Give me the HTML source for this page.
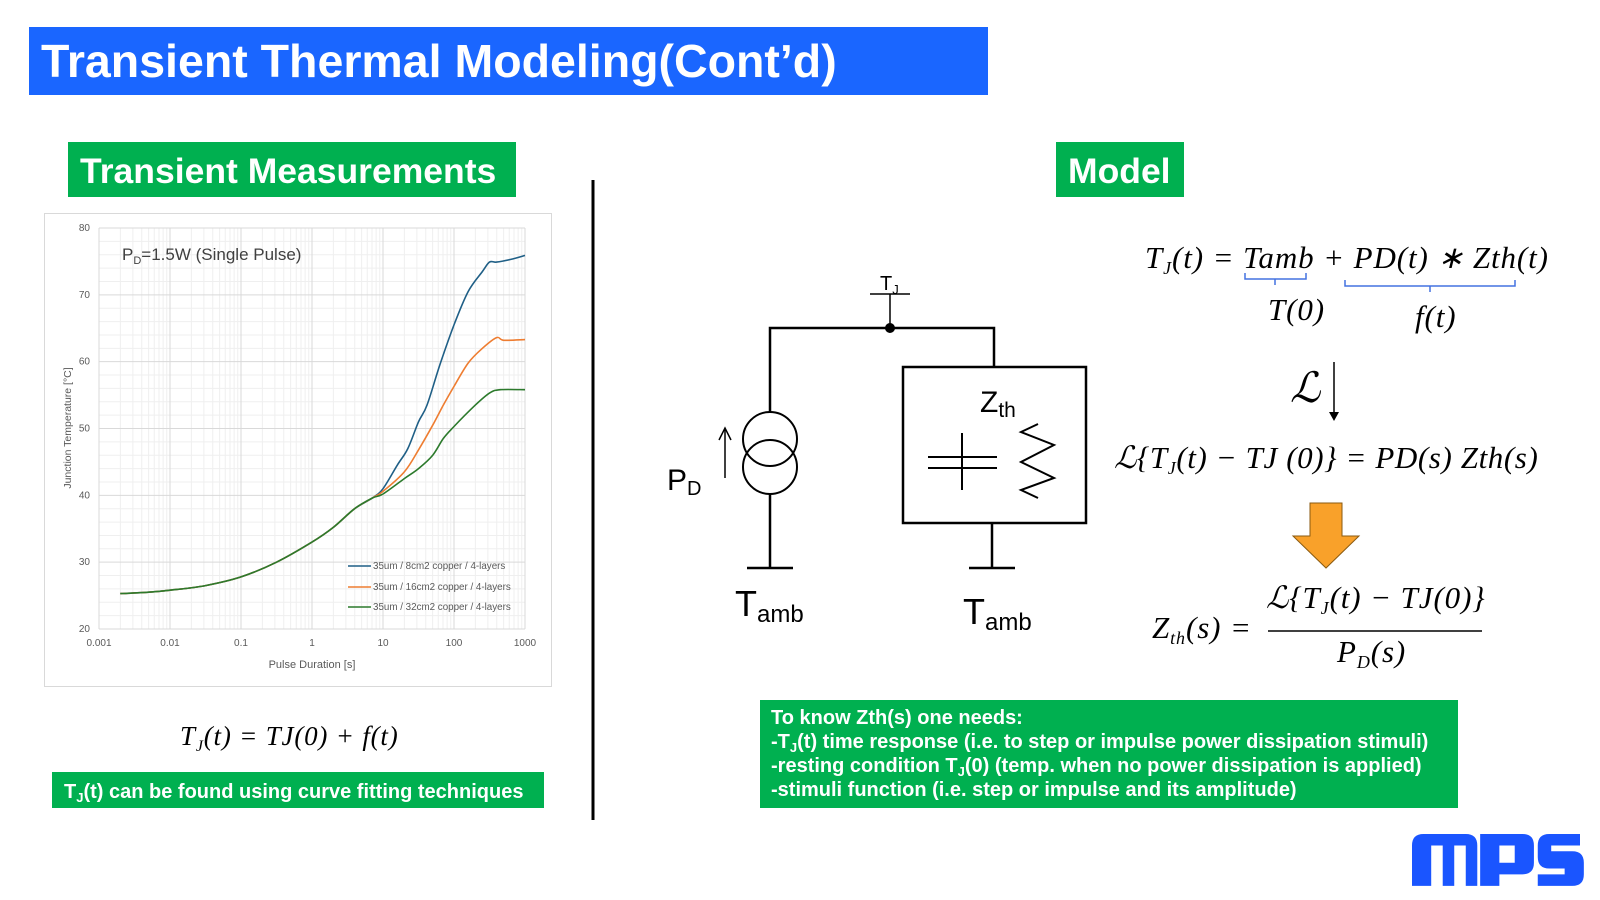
<!DOCTYPE html>
<html><head><meta charset="utf-8"><style>
html,body{margin:0;padding:0;background:#fff;}
svg{display:block;}
.m{font-family:"Liberation Serif",serif;font-style:italic;}
.a{font-family:"Liberation Sans",sans-serif;}
</style></head><body>
<svg id="s" width="1600" height="900" viewBox="0 0 1600 900" xmlns="http://www.w3.org/2000/svg">
<rect x="0" y="0" width="1600" height="900" fill="#fff"/>
<rect x="29" y="27" width="959" height="68" fill="#1a66ff"/>
<text x="41" y="77" class="a" font-size="46.5" font-weight="bold" fill="#fff">Transient Thermal Modeling(Cont’d)</text>
<rect x="68" y="142" width="448" height="55" fill="#00b050"/>
<text x="80" y="183" class="a" font-size="35.5" font-weight="bold" fill="#fff">Transient Measurements</text>
<rect x="1056" y="142" width="128" height="55" fill="#00b050"/>
<text x="1068" y="183" class="a" font-size="35.5" font-weight="bold" fill="#fff">Model</text>
<line x1="593" y1="180" x2="593" y2="820" stroke="#000" stroke-width="3"/>

<rect x="44.5" y="213.5" width="507" height="473" fill="#fff" stroke="#d9d9d9"/>
<g id="grid"></g>
<g id="curves" fill="none" stroke-width="1.6"></g>
<g class="a" font-size="10" fill="#595959" id="ticks"></g>
<text x="122" y="260" class="a" font-size="17" fill="#404040">P<tspan font-size="11" dy="4">D</tspan><tspan dy="-4">=1.5W (Single Pulse)</tspan></text>
<text transform="translate(71,428) rotate(-90)" text-anchor="middle" class="a" font-size="10.5" fill="#595959">Junction Temperature [°C]</text>
<text x="312" y="668" text-anchor="middle" class="a" font-size="11" fill="#595959">Pulse Duration [s]</text>
<g class="a" font-size="9.8" fill="#595959">
<line x1="348" y1="566" x2="371" y2="566" stroke="#1f5f86" stroke-width="1.6"/><text x="373" y="569">35um / 8cm2 copper / 4-layers</text>
<line x1="348" y1="587" x2="371" y2="587" stroke="#ee7d31" stroke-width="1.6"/><text x="373" y="590">35um / 16cm2 copper / 4-layers</text>
<line x1="348" y1="607" x2="371" y2="607" stroke="#2c7a2c" stroke-width="1.6"/><text x="373" y="610">35um / 32cm2 copper / 4-layers</text>
</g>

<text x="180" y="745" class="m" font-size="27" letter-spacing="0.8" fill="#000">T<tspan font-size="16" dy="6">J</tspan><tspan dy="-6">(t) = TJ(0) + f(t)</tspan></text>
<rect x="52" y="772" width="492" height="36" fill="#00b050"/>
<text x="64" y="798" class="a" font-size="20" font-weight="bold" fill="#fff">T<tspan font-size="13" dy="4">J</tspan><tspan dy="-4">(t) can be found using curve fitting techniques</tspan></text>

<g stroke="#000" stroke-width="2.5" fill="none">
<line x1="870" y1="294" x2="910" y2="294" stroke-width="1.5"/>
<line x1="890" y1="294" x2="890" y2="328" stroke-width="1.5"/>
<polyline points="770,412 770,328 994,328 994,367"/>
<circle cx="770" cy="439" r="27" stroke-width="2"/>
<circle cx="770" cy="467" r="27" stroke-width="2"/>
<line x1="770" y1="494" x2="770" y2="568"/>
<line x1="747" y1="568" x2="793" y2="568"/>
<rect x="903" y="367" width="183" height="156"/>
<line x1="992" y1="523" x2="992" y2="568"/>
<line x1="969" y1="568" x2="1015" y2="568"/>
<line x1="962" y1="433" x2="962" y2="490" stroke-width="2"/>
<line x1="928" y1="457" x2="997" y2="457" stroke-width="2"/>
<line x1="928" y1="468" x2="997" y2="468" stroke-width="2"/>
<polyline points="1038,424 1021,432 1054,445 1021,462 1054,478 1021,490 1038,498" stroke-width="2"/>
<line x1="725" y1="478" x2="725" y2="430" stroke-width="1.5"/>
<polyline points="719,440 725,428 731,440" stroke-width="1.5"/>
</g>
<circle cx="890" cy="328" r="5" fill="#000"/>
<text x="880" y="290" class="a" font-size="20">T<tspan font-size="13" dy="4">J</tspan></text>
<text x="980" y="412" class="a" font-size="30">Z<tspan font-size="21" dy="5">th</tspan></text>
<text x="667" y="490" class="a" font-size="30">P<tspan font-size="20" dy="5">D</tspan></text>
<text x="735" y="616" class="a" font-size="36">T<tspan font-size="24" dy="6">amb</tspan></text>
<text x="963" y="624" class="a" font-size="36">T<tspan font-size="24" dy="6">amb</tspan></text>

<g class="m" letter-spacing="0.9">
<text x="1145" y="268" font-size="31">T<tspan font-size="18" dy="6">J</tspan><tspan dy="-6">(t) = Tamb + PD(t) ∗ Zth(t)</tspan></text>
<text x="1268" y="320" font-size="31">T(0)</text>
<text x="1415" y="327" font-size="31">f(t)</text>
<text x="1114" y="468" font-size="31" letter-spacing="0.6">ℒ{T<tspan font-size="18" dy="6">J</tspan><tspan dy="-6">(t) − TJ (0)} = PD(s) Zth(s)</tspan></text>
<text x="1152" y="638" font-size="31">Z<tspan font-size="18" dy="6">th</tspan><tspan dy="-6">(s) =</tspan></text>
<text x="1266" y="608" font-size="31">ℒ{T<tspan font-size="18" dy="6">J</tspan><tspan dy="-6">(t) − TJ(0)}</tspan></text>
<text x="1337" y="662" font-size="31">P<tspan font-size="18" dy="6">D</tspan><tspan dy="-6">(s)</tspan></text>
</g>
<g stroke="#4472e0" stroke-width="1.5" fill="none">
<path d="M1245,273 v6 h61 v-6 M1275,279 v6"/>
<path d="M1345,280 v6 h170 v-6 M1430,286 v6"/>
</g>
<text x="1290" y="402" class="m" font-size="42">ℒ</text>
<line x1="1334" y1="362" x2="1334" y2="414" stroke="#000" stroke-width="1.5"/>
<polygon points="1329,412 1339,412 1334,421" fill="#000"/>
<polygon points="1310,503 1342,503 1342,536 1359,536 1326,568 1293,536 1310,536" fill="#f9a12a" stroke="#8a5a10" stroke-width="1"/>
<line x1="1268" y1="631" x2="1482" y2="631" stroke="#000" stroke-width="1.5"/>

<rect x="760" y="700" width="698" height="108" fill="#00b050"/>
<g class="a" font-size="20" font-weight="bold" fill="#fff">
<text x="771" y="724">To know Zth(s) one needs:</text>
<text x="771" y="748">-T<tspan font-size="13" dy="4">J</tspan><tspan dy="-4">(t) time response (i.e. to step or impulse power dissipation stimuli)</tspan></text>
<text x="771" y="772">-resting condition T<tspan font-size="13" dy="4">J</tspan><tspan dy="-4">(0) (temp. when no power dissipation is applied)</tspan></text>
<text x="771" y="796">-stimuli function (i.e. step or impulse and its amplitude)</text>
</g>

<g fill="#1a55ff" transform="translate(1412,834) scale(0.96) translate(-1407,-828)">
<path d="M1407,840 q0,-12 12,-12 h44 q12,0 12,12 v42 h-12 v-42 h-12 v42 h-12 v-42 h-12 v42 h-20 z"/>
<path d="M1478,828 h44 q12,0 12,12 v18 q0,12 -12,12 h-24 v12 h-20 z M1498,840 v18 h16 v-18 z" fill-rule="evenodd"/>
<path d="M1538,840 q0,-12 12,-12 h32 v12 h-30 v6 h22 q12,0 12,12 v12 q0,12 -12,12 h-36 v-12 h28 v-6 h-16 q-12,0 -12,-12 z"/>
</g>
</svg>
<script>
(function(){
function X(L){return 99+(L+3)*71;}
function Y(T){return 629-(T-20)*6.683;}
var g=document.getElementById('grid'),h='';
for(var d=-3;d<3;d++){for(var k=2;k<10;k++){var x=X(d+Math.log10(k));h+='<line x1="'+x+'" y1="228" x2="'+x+'" y2="629" stroke="#efefef" stroke-width="1"/>';}}
for(var t=22;t<80;t+=2){if(t%10)h+='<line x1="99" y1="'+Y(t)+'" x2="525" y2="'+Y(t)+'" stroke="#efefef"/>';}
for(var d=-3;d<=3;d++){h+='<line x1="'+X(d)+'" y1="228" x2="'+X(d)+'" y2="629" stroke="#d9d9d9"/>';}
for(var t=20;t<=80;t+=10){h+='<line x1="99" y1="'+Y(t)+'" x2="525" y2="'+Y(t)+'" stroke="#d9d9d9"/>';}
g.innerHTML=h;
var tk='',labs=['0.001','0.01','0.1','1','10','100','1000'];
for(var i=0;i<7;i++)tk+='<text x="'+X(i-3)+'" y="646" text-anchor="middle">'+labs[i]+'</text>';
for(var t=20;t<=80;t+=10)tk+='<text x="90" y="'+(Y(t)+3)+'" text-anchor="end">'+t+'</text>';
document.getElementById('ticks').innerHTML=tk;
var base=[[-2.7,25.3],[-2.3,25.5],[-2,25.8],[-1.5,26.5],[-1,27.8],[-0.5,30],[0,33],[0.3,35.2],[0.6,38],[0.85,39.6]];
var green=base.concat([[1,40.2],[1.3,42.5],[1.5,44],[1.7,46],[1.85,48.5],[2,50.3],[2.3,53.5],[2.5,55.3],[2.65,55.8],[3,55.8]]);
var orange=base.concat([[1,40.6],[1.3,43.5],[1.5,46.8],[1.7,50.5],[1.85,53.5],[2,56.3],[2.2,59.8],[2.4,62],[2.6,63.6],[2.7,63.2],[3,63.3]]);
var blue=base.concat([[1,41],[1.2,44.5],[1.35,47],[1.5,51],[1.62,53.5],[1.8,59.5],[2,65.5],[2.2,70.5],[2.4,73.5],[2.5,74.9],[2.6,74.9],[2.8,75.3],[3,75.9]]);
function p(a){
 var P=a.map(function(q){return [X(q[0]),Y(q[1])];});
 var s='M'+P[0][0].toFixed(1)+','+P[0][1].toFixed(1);
 for(var i=0;i<P.length-1;i++){
  var p0=P[i-1]||P[i],p1=P[i],p2=P[i+1],p3=P[i+2]||P[i+1];
  var c1x=p1[0]+(p2[0]-p0[0])/6,c1y=p1[1]+(p2[1]-p0[1])/6;
  var c2x=p2[0]-(p3[0]-p1[0])/6,c2y=p2[1]-(p3[1]-p1[1])/6;
  s+=' C'+c1x.toFixed(1)+','+c1y.toFixed(1)+' '+c2x.toFixed(1)+','+c2y.toFixed(1)+' '+p2[0].toFixed(1)+','+p2[1].toFixed(1);
 }
 return s;}
document.getElementById('curves').innerHTML='<path d="'+p(blue)+'" stroke="#1f5f86"/><path d="'+p(orange)+'" stroke="#ee7d31"/><path d="'+p(green)+'" stroke="#2c7a2c"/>';
})();
</script>
</body></html>
